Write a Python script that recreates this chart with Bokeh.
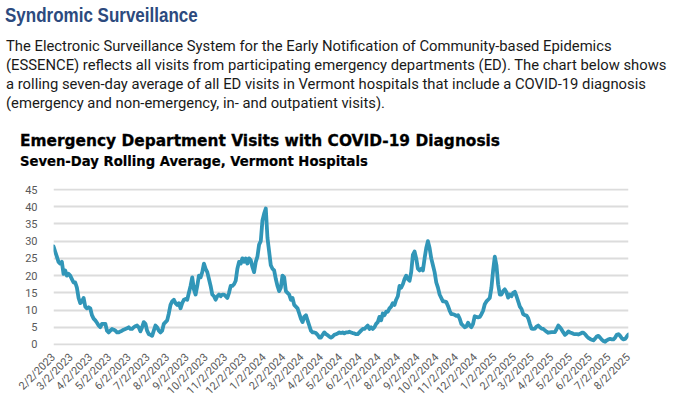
import pandas as pd
from math import pi
from bokeh.plotting import figure
from bokeh.layouts import column
from bokeh.models import Range1d, FixedTicker, ColumnDataSource, Div
from bokeh.embed import file_html
from bokeh.resources import INLINE

# ---------------- text ----------------
heading = "Syndromic Surveillance"
body_lines = [
    "The Electronic Surveillance System for the Early Notification of Community-based Epidemics",
    "(ESSENCE) reflects all visits from participating emergency departments (ED). The chart below shows",
    "a rolling seven-day average of all ED visits in Vermont hospitals that include a COVID-19 diagnosis",
    "(emergency and non-emergency, in- and outpatient visits).",
]
chart_title = "Emergency Department Visits with COVID-19 Diagnosis"
chart_subtitle = "Seven-Day Rolling Average, Vermont Hospitals"

# ---------------- axes ----------------
month_labels = [
    "2/2/2023", "3/2/2023", "4/2/2023", "5/2/2023", "6/2/2023", "7/2/2023",
    "8/2/2023", "9/2/2023", "10/2/2023", "11/2/2023", "12/2/2023", "1/2/2024",
    "2/2/2024", "3/2/2024", "4/2/2024", "5/2/2024", "6/2/2024", "7/2/2024",
    "8/2/2024", "9/2/2024", "10/2/2024", "11/2/2024", "12/2/2024", "1/2/2025",
    "2/2/2025", "3/2/2025", "4/2/2025", "5/2/2025", "6/2/2025", "7/2/2025",
    "8/2/2025",
]
y_ticks = [0, 5, 10, 15, 20, 25, 30, 35, 40, 45]
first_date = "2/2/2023"
last_date = "8/2/2025"

# ---------------- data: seven-day rolling average, evenly spaced samples ----------------
rolling_avg_part1 = [
    28.5, 27, 25.5, 24, 23.5, 24, 20.5, 21.5, 20, 20.5, 20, 19, 18, 18, 16.5, 13.5,
    12, 12.5, 13.5, 11, 10.5, 10.8, 10.5, 8.5, 7.5, 7, 6.3, 5.5, 5, 6, 6, 6,
    4, 3.5, 4, 4.5, 4.3, 4, 3.5, 3.5, 3.8, 4, 4.3, 4.5, 4.7, 5, 4.5, 4.5,
    5, 5.3, 5.5, 5, 3.8, 5, 6.5, 6, 4, 3, 2.8, 2.5, 4, 5.5, 5, 4,
    3.5, 4, 6, 6.5, 7, 9, 11.5, 12.5, 13, 12, 11.5, 12, 10.5, 12, 13, 13.2,
    13, 15, 17, 19.5, 16, 14.5, 17, 20, 19.5, 21, 23.5, 22, 21, 19, 17, 14.5,
    14, 13, 14, 14.5,
]
rolling_avg_part2 = [
    14, 14.5, 14.5, 14, 13.5, 15, 17, 17, 17.5, 18.5, 22, 24, 23.5, 25, 24, 25,
    23.5, 25, 24.5, 22.5, 21, 24, 25.5, 29, 30, 36, 38, 39.5, 31, 27, 23, 22,
    21.5, 19, 17, 15.5, 16.5, 20, 19.5, 15.5, 15, 14.5, 13, 13.5, 11.5, 11, 10.5, 9,
    7.5, 6.5, 8, 8.5, 7, 5.5, 4, 3.5, 3.5, 3.3, 2.8, 2, 2, 2.8, 3.5, 3,
    2.7, 2.3, 2, 2.3, 2.8, 3, 3.2, 3.5, 3.3, 3.5, 3.2, 3.5, 3.5, 3.7, 3.5, 3.3,
    3.2, 3, 3, 3.5, 4, 4.5, 4.5, 5, 5.5, 4.5, 5, 4.5, 5, 6, 6.5, 8,
    7, 9, 8.5, 9.5, 9.5, 10.5, 11, 12, 11.5, 13, 14, 17, 16.5, 17.5, 19, 20,
    19, 18.5, 21, 26, 27, 25, 22, 21.5, 22, 21.5, 25, 28, 30, 28, 25, 23,
    21, 18, 16.5, 14.5,
]
rolling_avg_part3 = [
    13.5, 12.5, 12.5, 12.3, 11.2, 9.8, 8.8, 8.8, 8.6, 8.3, 8.5, 7.5, 6, 5.5, 5, 5.2,
    6.3, 5.5, 5, 6, 8.2, 8, 7.9, 8, 8.8, 9.8, 11.7, 12.5, 13, 13.5, 16.5, 21.5,
    25.5, 23, 17.5, 14.5, 14.5, 15.5, 16, 15.2, 13.6, 14.5, 14, 15, 15.3, 14, 12.5, 11,
    10.3, 8.8, 8.5, 8.4, 7.6, 6, 4.6, 4.5, 4.6, 5.2, 5.5, 5, 4.6, 4.5, 4.1, 3.7,
    3.4, 3.5, 3.6, 3.6, 3.6, 4.5, 5.5, 5, 4.3, 3.5, 2.8, 3.2, 3.8, 3.5, 3.3, 3.1,
    3, 3, 2.9, 3.1, 3.4, 3.4, 3, 2.4, 1.9, 1.6, 1.4, 1.2, 1.7, 2.3, 2.5, 2,
    1.4, 1, 0.8, 1.2, 1.5, 1.6, 1.5, 1.5, 2, 2.8, 3, 2.5, 1.8, 1.5, 1.6, 2.3,
    2.9,
]
rolling_avg = rolling_avg_part1 + rolling_avg_part2 + rolling_avg_part3

# ---------------- build ----------------
start = pd.to_datetime(first_date, format="%m/%d/%Y")
end = pd.to_datetime(last_date, format="%m/%d/%Y")
sample_dates = pd.date_range(start, end, periods=len(rolling_avg))
x_days = list((sample_dates - start) / pd.Timedelta(days=1))
tick_days = [int((pd.to_datetime(t, format="%m/%d/%Y") - start).days) for t in month_labels]
span_days = float((end - start).days)

src = ColumnDataSource(dict(x=x_days, y=rolling_avg))

W, H = 681, 404
HEADER_H = 175
LEFT, RIGHT, TOP, BOTTOM = 53, 53, 188 - HEADER_H, 57

p = figure(
    width=W, height=H - HEADER_H, output_backend="svg", toolbar_location=None,
    x_range=Range1d(0, span_days), y_range=Range1d(-0.3, 45.3),
    min_border_left=LEFT, min_border_right=RIGHT,
    min_border_top=TOP, min_border_bottom=BOTTOM,
    background_fill_color="white", border_fill_color="white", margin=0,
)
p.outline_line_color = None

p.line("x", "y", source=src, line_color="#3196B8", line_width=3.8,
       line_join="round", line_cap="round")

# y axis
p.yaxis.ticker = FixedTicker(ticks=y_ticks)
p.yaxis.axis_line_color = None
p.yaxis.major_tick_line_color = None
p.yaxis.minor_tick_line_color = None
p.yaxis.major_label_standoff = 10
p.yaxis.major_label_text_font = "Roboto"
p.yaxis.major_label_text_font_size = "11px"
p.yaxis.major_label_text_color = "#595959"

# x axis
p.xaxis.ticker = FixedTicker(ticks=tick_days)
p.xaxis.major_label_overrides = {d: t for d, t in zip(tick_days, month_labels)}
p.xaxis.major_label_orientation = pi / 4
p.xaxis.axis_line_color = None
p.xaxis.major_tick_line_color = None
p.xaxis.minor_tick_line_color = None
p.xaxis.major_label_standoff = 4
p.xaxis.major_label_text_font = "Roboto"
p.xaxis.major_label_text_font_size = "11px"
p.xaxis.major_label_text_color = "#595959"

# grids
p.xgrid.grid_line_color = None
p.ygrid.ticker = FixedTicker(ticks=y_ticks)
p.ygrid.grid_line_color = "#DCDCDC"
p.ygrid.grid_line_width = 2


# ---------------- header (HTML text, absolutely positioned) ----------------
def span(txt, left, top, size, family, weight, color, extra=""):
    return (f'<div style="position:absolute;left:{left}px;top:{top}px;'
            f'font-family:{family};font-size:{size}px;line-height:1;'
            f'font-weight:{weight};color:{color};white-space:nowrap;{extra}">{txt}</div>')


parts = [span(heading, 5, 5, 20, "'Liberation Sans'", "bold", "#2C4A7E",
              "transform:scaleX(0.85);transform-origin:0 0;")]
for i, line in enumerate(body_lines):
    parts.append(span(line, 6, 38.5 + 19 * i, 14.8, "Roboto", "normal", "#1A1A1A"))
parts.append(span(chart_title, 20, 134, 15.4, "'DejaVu Sans'", "bold", "#000000",
                  "-webkit-text-stroke:0.3px #000;"))
parts.append(span(chart_subtitle, 20, 155, 13.2, "'DejaVu Sans'", "bold", "#000000",
                  "-webkit-text-stroke:0.2px #000;"))

header_html = (f'<div style="position:relative;width:{W}px;height:{HEADER_H}px;margin:0;padding:0;">'
               + "".join(parts) + "</div>")
header = Div(text=header_html, width=W, height=HEADER_H, margin=0)

layout = column(header, p, spacing=0, margin=0)

open("out.html", "w").write(file_html(layout, INLINE))
